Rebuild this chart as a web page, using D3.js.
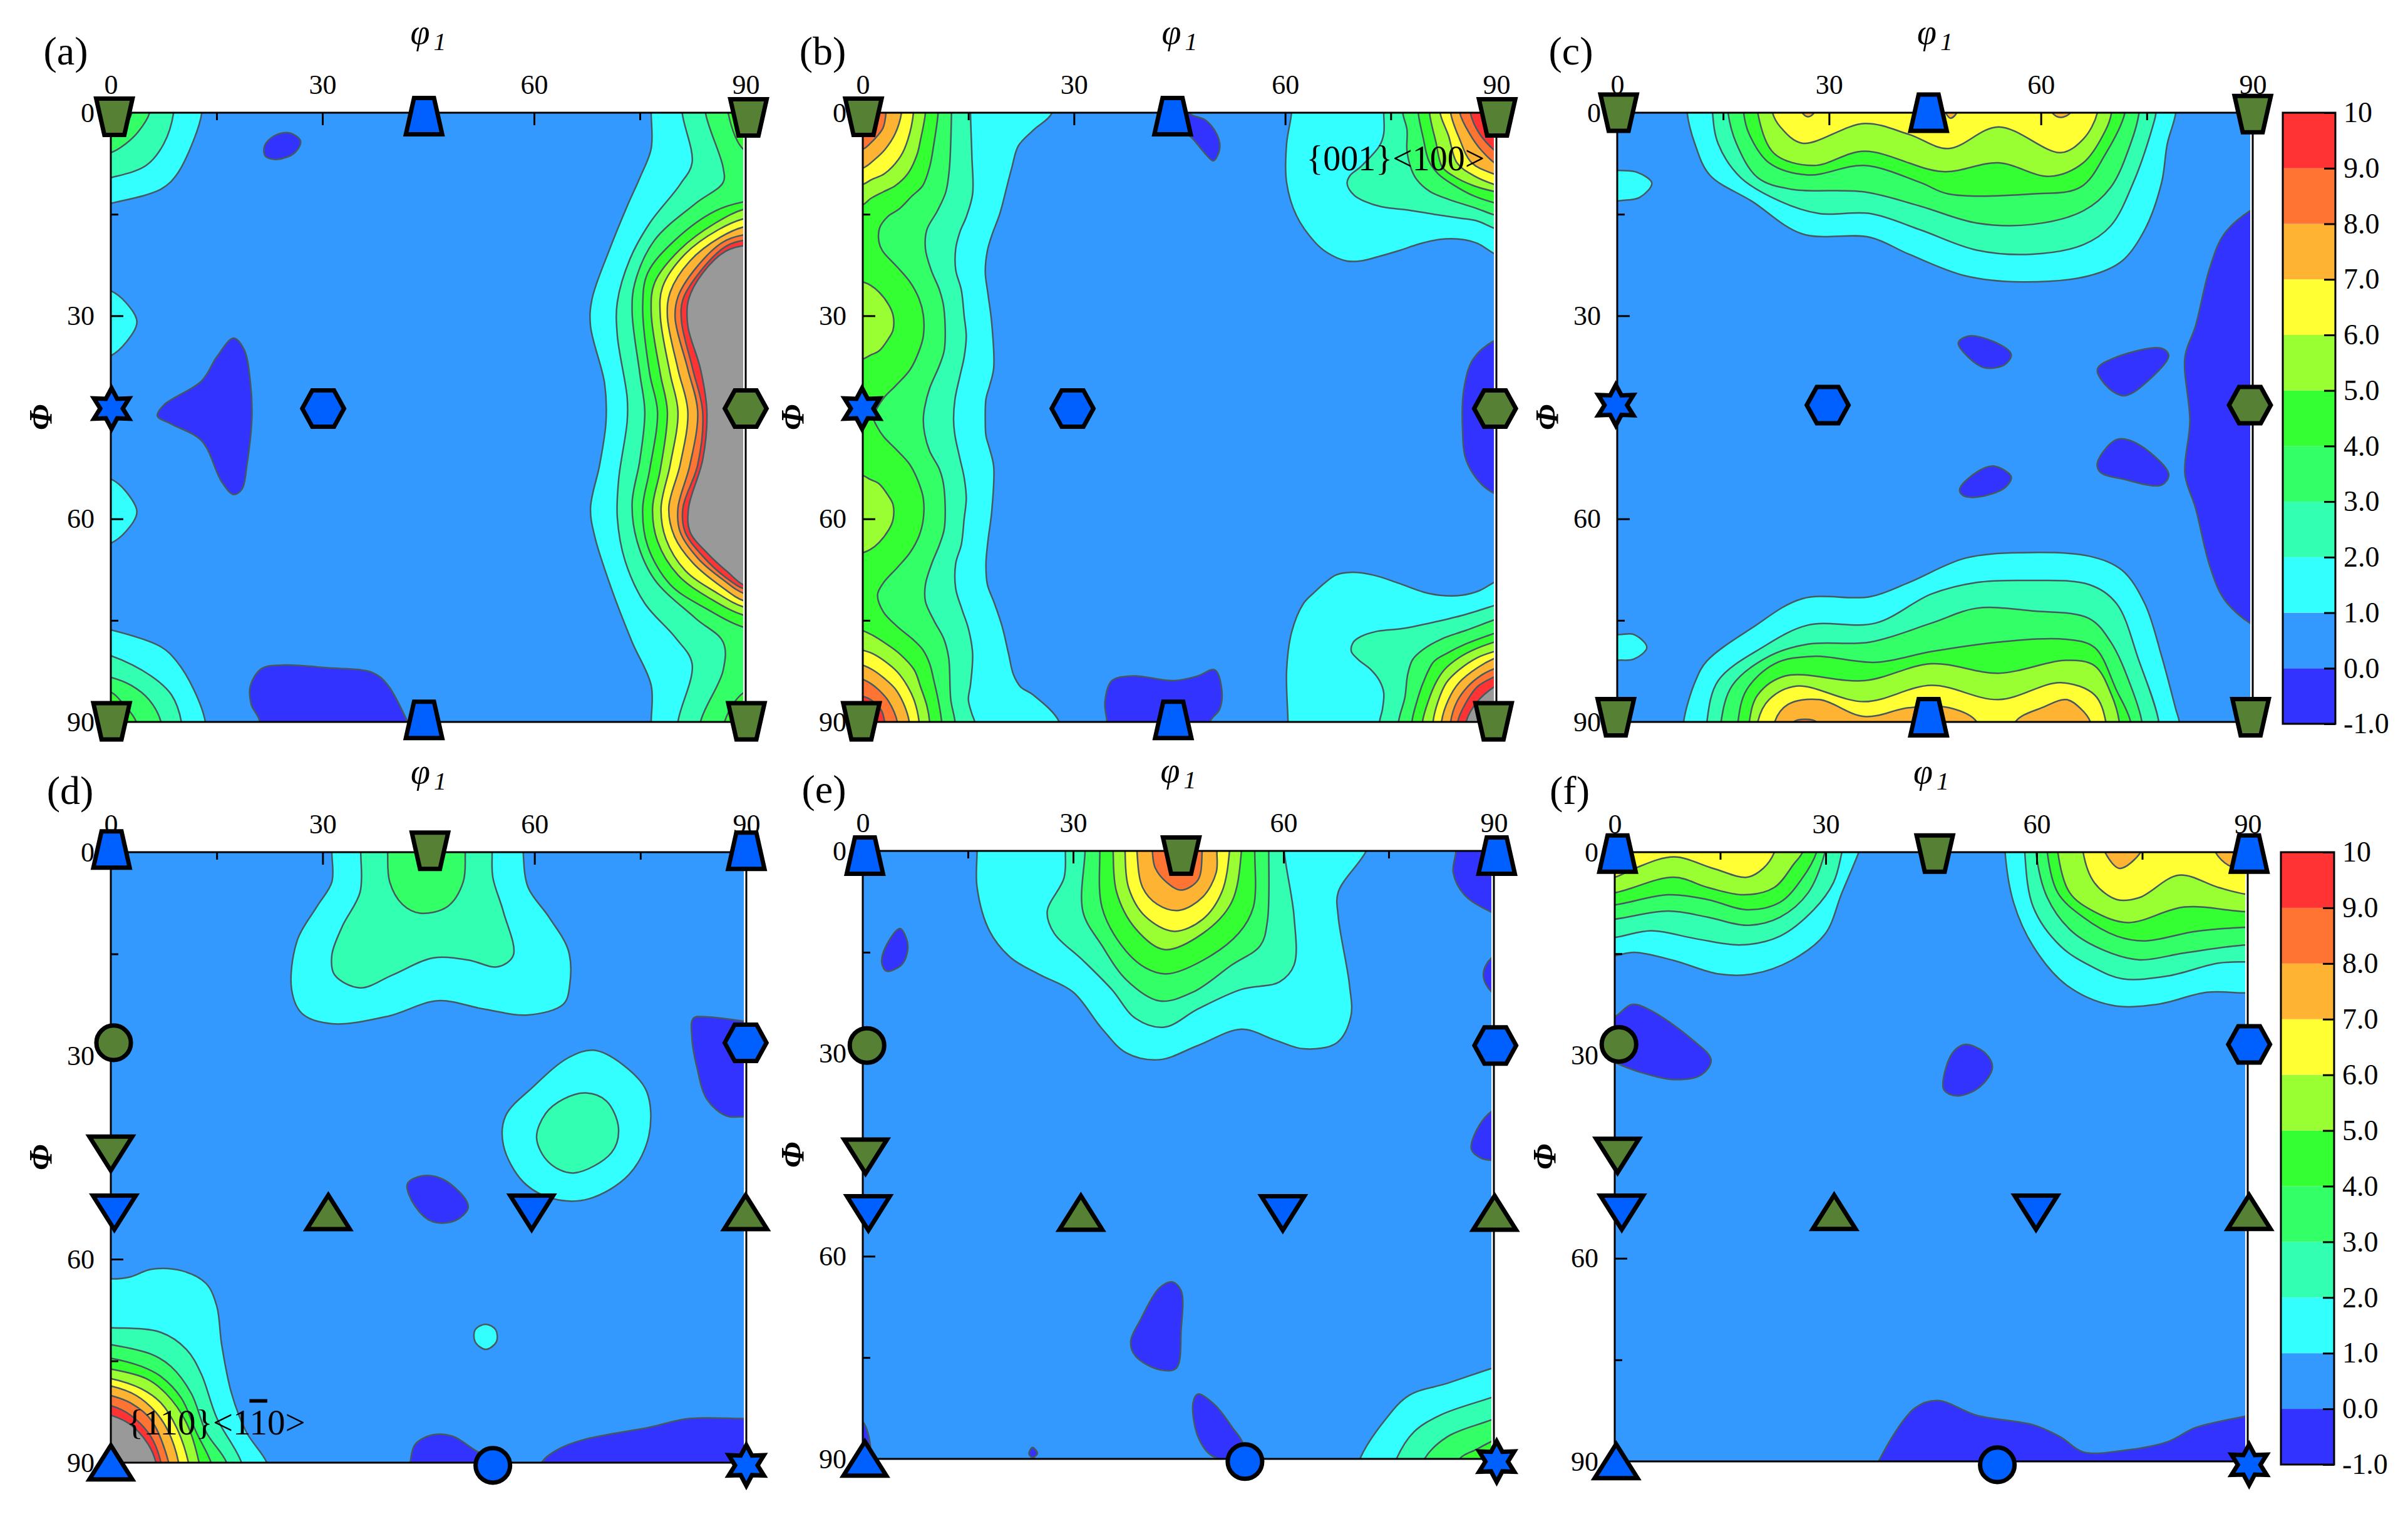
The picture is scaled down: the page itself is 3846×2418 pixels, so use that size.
<!DOCTYPE html>
<html>
<head>
<meta charset="utf-8">
<script src="https://cdn.jsdelivr.net/npm/d3@7"></script>
<style>
  html, body { margin: 0; background: #fff; }
  text { font-family: "Liberation Serif", serif; fill: #000; }
</style>
</head>
<body>
<div id="chart"></div>
<script>
// colour levels of the ODF sections, last band is everything above 10
var levels = [-1, 0, 1, 2, 3, 4, 5, 6, 7, 8, 9, 10];
var levelLabels = ["-1.0", "0.0", "1.0", "2.0", "3.0", "4.0", "5.0", "6.0", "7.0", "8.0", "9.0", "10"];
var bandColors = ["#3333ff", "#3399ff", "#33ffff", "#33ffb3", "#33ff66", "#33ff33", "#99ff33", "#ffff33", "#ffb333", "#ff7333", "#ff3333", "#999999"];
var majorTicks = [0, 30, 60, 90];
var minorTicks = [15, 75];
var panelNames = ["(a)", "(b)", "(c)", "(d)", "(e)", "(f)"];

// contour regions: [lower level, [[phi1, Phi], ...]]
var bandsA = [
  [-1, [[21.8,4.9],[23.2,3.4],[25.4,3],[26.9,4.2],[26.1,5.9],[23.6,6.9],[21.9,6.4]]],
  [-1, [[17.4,33.3],[18.9,35],[19.8,40],[20,44.9],[19.3,52],[18.6,55.6],[17.4,56.4],[15.7,54.5],[12.9,48.5],[8.6,46],[6.6,44.8],[7.5,43.2],[12.9,39.6],[15,36.1]]],
  [-1, [[21.1,90],[19.9,87.4],[19.8,84.6],[21.4,82.1],[24.3,81.6],[30.7,82],[37.1,82.7],[39.3,84.6],[42.1,90],[44,94],[20,94]]],
  [1, [[12.9,-4],[12.9,0],[11.8,3.9],[9.3,9.2],[7.1,11.3],[0,13.4],[-5,14.5],[-5,-4]]],
  [2, [[8.9,-4],[8.9,0],[7.5,4.6],[5,7.8],[0,9.6],[-5,10.5],[-5,-4]]],
  [3, [[5.5,-4],[5.5,0],[3.9,2.8],[2.1,4.6],[0,5.9],[-5,6.5],[-5,-4]]],
  [4, [[3,-4],[3,0],[1.8,2.1],[0,3.5],[-5,4],[-5,-4]]],
  [1, [[13.4,94],[13.4,90],[11.8,85.3],[9.3,81],[7.1,78.9],[0,76.4],[-5,75.5],[-5,94]]],
  [2, [[10,94],[10,90],[8.6,86],[5.7,83.2],[0,80.2],[-5,79],[-5,94]]],
  [3, [[7.1,94],[7.1,90],[5.4,86.7],[2.9,84.6],[0,83.4],[-5,82.5],[-5,94]]],
  [4, [[3.6,94],[3.6,90],[1.8,87.4],[0,85.6],[-5,85],[-5,94]]],
  [1, [[-5,25],[0,26.3],[2.1,28],[3.7,30.9],[2.1,34],[0,35.9],[-5,37]]],
  [1, [[-5,53],[0,54.1],[2.1,55.9],[3.7,59],[2.1,61.9],[0,63.6],[-5,65]]],
  [1, [[76.6,-4],[76.6,0],[76.6,5.3],[75,9.6],[73.2,13.8],[70.7,20.2],[68.2,27.6],[68,31.5],[70,40],[70.2,45.6],[69.3,52],[68,58.4],[68.6,62.6],[71,70.4],[73.9,78.2],[76.6,84.6],[76.6,90],[76.6,94],[95,94],[95,-4]]],
  [2, [[81,-4],[81,0],[82.4,7.4],[80.7,10.6],[76.4,16.3],[73.6,21.6],[71.8,28],[71.8,32.9],[73.2,42.1],[73.2,45.6],[72,54.1],[71.8,59.8],[72.9,66.2],[75.7,72.5],[80,77.5],[82.4,81.4],[80.4,90],[80.4,94],[95,94],[95,-4]]],
  [3, [[84.3,-4],[84.3,0],[86.8,8.1],[86.8,10.3],[82.9,13.4],[77.1,18.8],[74.3,25.1],[73.9,29.4],[75,38.6],[75.7,44.2],[75,51.3],[73.9,57.7],[74.6,63.3],[77.1,69],[82.9,74.7],[86.8,78.2],[86.8,82.4],[83.6,90],[83.6,94],[95,94],[95,-4]]],
  [4, [[87.5,-4],[87.5,0],[90,5.7],[95,6],[95,-4]]],
  [4, [[87,94],[87,90],[90,85.5],[95,85.5],[95,94]]],
  [4, [[95,12.7],[90,13.1],[85.7,14.5],[80,18.8],[76.1,23.7],[75.4,28.7],[76.4,38.6],[77.5,44.2],[76.4,52.7],[75.4,58.4],[76.1,64],[79.3,69.7],[84.3,73.2],[90,76.1],[95,76.5]]],
  [5, [[95,14],[90,14.2],[85.7,16.3],[80.7,20.2],[77.1,25.1],[76.6,29.4],[77.9,38.6],[78.9,44.2],[77.9,52.7],[76.8,58.4],[77.5,63.3],[80.4,68.3],[85,71.8],[90,74.3],[95,74.5]]],
  [6, [[95,15.4],[90,15.6],[86.1,17.3],[81.4,20.9],[78.2,25.8],[77.9,30.1],[79.3,38.6],[80.4,44.2],[79.3,52],[78,58.4],[78.7,63],[81.4,67.6],[85.7,70.8],[90,73.1],[95,73.3]]],
  [7, [[95,16.6],[90,16.8],[86.4,18.4],[82.1,21.9],[79.3,26.5],[78.9,30.1],[80.4,37.9],[81.8,44.2],[80.7,52],[79.1,58.4],[79.9,62.6],[82.5,66.5],[86.4,69.9],[90,72.2],[95,72.4]]],
  [8, [[95,17.9],[90,18],[86.8,19.1],[82.9,23],[80.4,27.2],[80,30.4],[81.8,37.9],[83.2,44.2],[82.1,52],[80.4,58.4],[80.7,61.9],[83.2,65.8],[86.8,69],[90,71.1],[95,71.3]]],
  [9, [[95,18.6],[90,18.8],[87.1,19.8],[83.6,23.4],[81.1,27.6],[80.9,30.8],[82.5,37.9],[83.9,44.2],[83.2,52],[81.1,58.4],[81.4,61.9],[83.9,65.5],[87.1,68.6],[90,70.4],[95,70.6]]],
  [10, [[95,19.4],[90,19.6],[87.1,20.5],[83.9,23.7],[81.9,27.6],[81.8,31.5],[83.6,37.9],[84.5,44.2],[83.9,51.3],[81.9,58.4],[82.1,61.9],[84.6,65.1],[87.5,67.9],[90,69.9],[95,70.1]]]
];

var bandsB = [
  [-1, [[46,-4],[46.3,0],[48.7,1.1],[50.3,3.2],[50.7,5.3],[49.8,7.1],[48.6,6],[46.9,3.9],[45,2],[44,-4]]],
  [-1, [[95,32],[89.8,33.6],[86.7,36.4],[85.4,40.7],[85.2,47.1],[85.7,51.3],[87.8,54.8],[89.8,56.3],[95,58]]],
  [-1, [[34.7,90],[34.4,87],[35.4,83.9],[38.4,83.2],[44.2,83.9],[47.6,83.2],[50,82.3],[51,85.3],[50.7,88.1],[49.3,90],[49,94],[35,94]]],
  // left side
  [1, [[27,-4],[26.9,0],[24.2,2.6],[22.1,4.9],[21.2,8],[20.5,10.8],[19.5,14.8],[18.3,18.2],[17.7,20.4],[17.4,23.5],[17.8,26.9],[18.3,30.9],[18.6,37.7],[18,40.4],[17.5,42.3],[17.4,45.4],[17.5,47.7],[18,49.6],[18.6,52.3],[18.3,59.1],[17.8,63.1],[17.5,66.6],[17.7,69.7],[18.6,72.2],[19.8,75.9],[20.7,79.9],[21.4,83],[22.4,84.8],[24.2,86],[27.9,90],[28,94],[-5,94],[-5,-4]]],
  [2, [[15.3,-4],[15.3,0],[15.5,6.5],[15.6,12],[14.7,15.4],[13.8,17.6],[13.2,20.1],[13.2,23.2],[14,26.2],[14.4,30],[14.7,33],[14.4,36.1],[13.8,38.9],[13.1,42.3],[12.9,45.4],[13.1,47.7],[13.8,51.1],[14.4,53.9],[14.7,57],[14.4,60],[14,63.8],[13.2,66.6],[13.2,70.3],[14.1,73.4],[15,76.2],[15.6,79.9],[15.3,84.5],[15,86.7],[15.5,88.8],[15.9,90],[16,94],[-5,94],[-5,-4]]],
  [3, [[12.6,-4],[12.6,0],[12.3,8.3],[11.8,11.7],[10.6,14.5],[9.1,17.3],[8.9,20.1],[9.7,23.2],[10.9,26.2],[11.5,28.7],[11.6,34.9],[10.9,37.3],[9.5,40.7],[8.8,43.5],[8.6,45.4],[8.8,47.5],[9.5,50],[10.9,52.7],[11.5,55.1],[11.6,61.3],[10.9,63.8],[9.8,66.6],[8.9,69.7],[8.9,72.2],[10.1,75],[11.5,77.7],[12.2,80.5],[12.5,86.7],[13.1,90],[13.1,94],[-5,94],[-5,-4]]],
  [4, [[10.7,-4],[10.7,0],[10.1,4.6],[9.5,8],[8.5,10.8],[7,12.3],[5.2,14.2],[3.6,15.3],[2.4,17],[2.3,19.1],[2.8,20.4],[4.9,22.8],[6.7,25],[8,27.5],[8.6,29.9],[8.6,33],[8,35.2],[6.7,38],[4.6,40.4],[3,42.1],[2.1,43.5],[1.5,45],[2.1,46.5],[3,47.9],[4.6,49.6],[6.7,52],[8,54.8],[8.6,57],[8.6,60],[8,62.5],[6.7,65],[4.9,67.2],[2.9,69.5],[2.1,71.2],[2.9,73.7],[4.9,75.9],[7,77.7],[8.5,79.3],[9.5,81.4],[10.1,83.9],[10.7,86.7],[11.2,90],[11.2,94],[-5,94],[-5,-4]]],
  [5, [[-5,24],[0,25],[1.1,25.5],[2.3,26.5],[3.7,28.4],[4.3,29.9],[4.3,32.1],[3.7,33.3],[2.3,35.2],[1.1,35.8],[0,36.4],[-5,37.5]]],
  [5, [[-5,52.5],[0,53.6],[1.1,54.2],[2.3,54.8],[3.7,56.7],[4.3,57.9],[4.3,60.1],[3.7,61.6],[2.3,63.5],[1.1,64.5],[0,65],[-5,66]]],
  [5, [[8.9,-4],[8.9,0],[8.2,4],[7.7,6.2],[6.4,9],[4.6,10.8],[2.9,11.7],[1.1,12.7],[0,13.6],[-5,14.5],[-5,-4]]],
  [6, [[7.2,-4],[7.2,0],[6.4,4],[5.4,6.4],[3.1,9],[1.2,9.9],[0,10.6],[-5,11.5],[-5,-4]]],
  [7, [[5.5,-4],[5.5,0],[4.6,3.1],[3.1,5.5],[1.7,6.9],[0,8.2],[-5,9],[-5,-4]]],
  [8, [[3.3,-4],[3.3,0],[2.9,2.2],[2.1,3.4],[1.1,4.5],[0,5.4],[-5,6],[-5,-4]]],
  [5, [[9.5,94],[9.5,90],[9.1,87.6],[8.2,84.8],[7.3,82.3],[5.2,79.9],[3.1,78.3],[1.4,77.2],[0,76.5],[-5,75],[-5,94]]],
  [6, [[8,94],[8,90],[7.3,86.8],[6.4,84.8],[4.9,82.6],[3.1,81],[1.4,79.9],[0,79.4],[-5,78],[-5,94]]],
  [7, [[6.6,94],[6.6,90],[5.8,87.3],[4.6,85.1],[3.1,83.6],[1.4,82.3],[0,81.6],[-5,80],[-5,94]]],
  [8, [[4.9,94],[4.9,90],[3.7,87],[2.3,85.3],[1.1,84.3],[0,83.7],[-5,82],[-5,94]]],
  [9, [[3.1,94],[3.1,90],[2.6,88.2],[1.1,86.7],[0,86.2],[-5,85],[-5,94]]],
  // right side, top
  [1, [[60.9,-4],[60.9,0],[60.2,4.6],[60.2,10.3],[61.6,15.2],[64.2,19.1],[66,20.7],[68.7,21.9],[70.7,21.9],[73.1,21.3],[76.1,20.4],[79,19.4],[82,18.7],[85,18.7],[87.3,19.3],[90,21],[95,23],[95,-4]]],
  [2, [[74,-4],[74,0],[74,3.1],[73.4,4.9],[70.7,8],[69.2,9.3],[68.8,10.5],[69.8,12.2],[71.3,13.1],[73.7,13.9],[77.6,14.4],[81.1,15],[85,15.6],[87.3,16],[90,17.2],[95,18.5],[95,-4]]],
  [3, [[76.7,-4],[76.7,0],[77.3,2.5],[77.3,5.6],[77.9,8.3],[78.7,9.9],[80.5,11.6],[83.2,12.8],[86.8,14],[90,15.2],[95,16.5],[95,-4]]],
  [4, [[78.9,-4],[78.9,0],[79.6,3.7],[80.4,7.1],[81.7,9],[83.8,10.6],[86.8,12.3],[90,13.4],[95,14.5],[95,-4]]],
  [5, [[80.5,-4],[80.5,0],[81.4,4.3],[82.3,8],[83.8,9.3],[86.8,10.8],[90,11.7],[95,12.5],[95,-4]]],
  [6, [[82,-4],[82,0],[83.2,3.4],[84.4,7.4],[86.8,9.3],[90,10.7],[95,12],[95,-4]]],
  [7, [[83.5,-4],[83.5,0],[84.7,3.7],[86.5,7.4],[90,9.2],[95,11],[95,-4]]],
  [8, [[84.8,-4],[84.8,0],[86.2,3.1],[87.9,5.6],[90,7.6],[95,10],[95,-4]]],
  [9, [[86.3,-4],[86.3,0],[87.6,3.1],[90,5.8],[95,9],[95,-4]]],
  // right side, bottom
  [1, [[60.4,94],[60.4,90],[60.2,82.4],[60.9,76.8],[62.6,72.5],[64.2,70.8],[65.7,69.4],[67.2,68.3],[69.5,67.9],[72.5,68.3],[76.1,69.5],[79.6,70.8],[82,71.3],[85,71.3],[87.6,70.6],[90,69.2],[95,67],[95,94]]],
  [2, [[73.4,94],[73.4,90],[73.8,88.2],[74,85.7],[73.4,83.9],[72.2,82.3],[70.4,80.8],[69.4,79.6],[69.7,78.2],[70.7,77.4],[73.1,76.6],[76.7,76.2],[80.5,75.4],[85,74.3],[90,72.7],[95,71],[95,94]]],
  [3, [[76.1,94],[76.1,90],[77,86.4],[77.4,83],[78.1,80.8],[79.6,79.3],[82.3,77.7],[85.6,76.5],[90,74.8],[95,73],[95,94]]],
  [4, [[78,94],[78,90],[78.7,87],[79.6,84.2],[81.1,81.1],[82.9,79.9],[85.6,78.5],[90,76.8],[95,75],[95,94]]],
  [5, [[79.5,94],[79.5,90],[80.4,86.7],[81.4,84.2],[82.6,82.3],[84.7,80.5],[87.3,79.1],[90,78.1],[95,76.5],[95,94]]],
  [6, [[81,94],[81,90],[81.7,87],[82.9,84.2],[84.7,82.3],[87.3,80.5],[90,79.5],[95,78],[95,94]]],
  [7, [[82.2,94],[82.2,90],[83.2,86.7],[84.7,84.2],[87.3,82],[90,80.5],[95,79],[95,94]]],
  [8, [[83.5,94],[83.5,90],[84.4,87],[85.9,84.8],[88,83],[90,82],[95,80],[95,94]]],
  [9, [[84.5,94],[84.5,90],[85.6,87.3],[87.3,84.8],[90,83.2],[95,81],[95,94]]],
  [10, [[85.7,94],[85.7,90],[87.3,87],[90,84.6],[95,82],[95,94]]]
];

var bandsC = [
  [-1, [[95,12],[89.6,14.5],[85.9,18],[83.9,23],[81.9,31.5],[80.4,36.1],[81.1,45.6],[80.4,53.4],[81.9,58.4],[83.9,66.9],[85.9,71.8],[89.6,75.4],[95,78]]],
  [-1, [[48.3,34],[49.7,33],[53.3,33.8],[55.8,35.7],[54.9,37.2],[52.1,37.7],[49.7,36.1]]],
  [-1, [[48.5,55.6],[50.9,53.1],[53.3,52.2],[55.8,53.8],[54.9,55.4],[50.9,56.8],[48.9,56.5]]],
  [-1, [[68,37.9],[70.7,36.1],[77.1,34.8],[78.1,35.9],[75.5,39.3],[71.9,41.8],[69.6,40.7]]],
  [-1, [[68,51.7],[70.7,48.3],[73.5,48.8],[78.1,53.4],[77.1,55],[71.5,54.1],[68.4,53.1]]],
  [1, [[-5,8],[0,8.5],[2.8,8.8],[4.9,10.4],[3.2,12.5],[0.4,13],[-5,13.5]]],
  [1, [[-5,76.5],[0,77.1],[2.4,77.1],[4.2,79],[2.4,80.7],[0,80.9],[-5,81.5]]],
  // top
  [1, [[9.9,-4],[9.9,0],[11,4.6],[13.1,9.2],[19.1,13.1],[26.2,17.9],[35.8,18.4],[41.3,20.9],[49.3,24.1],[57.2,25],[66.8,24.1],[71.5,21.9],[74.7,17.3],[77.1,10.3],[77.9,4.6],[79.1,0],[79.1,-4]]],
  [2, [[13.5,-4],[13.5,0],[14.3,4.6],[17.5,9.6],[23.1,13.1],[28.6,14.9],[35.8,14.9],[42.9,17.3],[50.9,20.3],[58.8,20.9],[66,19.5],[69.9,16.7],[73.1,10.3],[75.9,1.8],[76.3,0],[76.3,-4]]],
  [3, [[15.7,-4],[15.7,0],[16.9,4.6],[19.9,9.6],[24.6,11.3],[35,11.7],[42.9,13.8],[50.9,16.3],[58.8,16.5],[66,14.5],[69.9,11],[72.7,4.6],[73.9,0],[73.9,-4]]],
  [4, [[17.9,-4],[17.9,0],[18.7,3.2],[21.5,7.4],[27,9.2],[35,7.8],[42.9,10.3],[46.9,12],[58.8,12],[65.6,11],[69.2,6],[71.9,0],[71.9,-4]]],
  [5, [[19.9,-4],[19.9,0],[22.2,6],[27.8,7.8],[35,5.7],[46.1,8.7],[54,7.4],[61.2,9.4],[66,7.4],[69.2,2.5],[70,0],[70,-4]]],
  [6, [[22,-4],[22,0],[23.1,2.1],[26.2,4.5],[35,1.6],[41.3,3.2],[46.9,5.3],[54,2.1],[62.8,5.9],[66,3.9],[68,0],[68,-4]]],
  [7, [[25.5,-2],[26.2,0],[27,0.6],[27.9,0],[28.5,-2]]],
  [7, [[46,-2],[46.5,0],[47.2,0.8],[48.1,0],[48.6,-2]]],
  [7, [[61,-2],[61.6,0],[62.8,0.7],[64.2,0],[64.8,-2]]],
  // bottom
  [1, [[9.4,94],[9.4,90],[11.1,83.9],[12.7,81],[19.1,76.1],[26.2,71.8],[35.8,71.5],[41.3,69.4],[49.3,65.8],[57.2,65],[66.8,65.5],[71.5,67.6],[74.7,72.5],[77.1,80.3],[79.1,88.1],[79.6,90],[79.6,94]]],
  [2, [[12.7,94],[12.7,90],[14.3,83.9],[20.7,78.9],[27,75.7],[36.6,75.4],[44.5,71.1],[50.9,69.4],[58,69.1],[66.8,69.7],[70.7,72.5],[73.9,81],[76.7,90],[76.7,94]]],
  [3, [[14.7,94],[14.7,90],[16.3,84.6],[21.5,80.3],[27,78.5],[35.8,78.2],[44.5,75.4],[50.9,73.2],[58.8,73.6],[66.8,74.7],[69.9,78.2],[72.7,84.6],[74.3,90],[74.3,94]]],
  [4, [[17.1,94],[17.1,90],[18.3,85.3],[22.3,81.4],[27.8,80.3],[36.6,81.2],[44.5,79.6],[54,78.2],[63.6,77.8],[67.6,79],[70.7,85.3],[72.7,90],[72.7,94]]],
  [5, [[18.7,94],[18.7,90],[19.9,86],[23.8,83.2],[35,83.9],[44.5,81.4],[54,82.8],[63.6,80.9],[67.6,81.7],[70,86],[71.1,90],[71.1,94]]],
  [6, [[19.9,94],[19.9,90],[21.5,86.7],[25.4,84.7],[35,87],[44.5,84.6],[54,86.7],[62.8,84.2],[67.6,86],[69.2,90],[69.2,94]]],
  [7, [[22.3,94],[22.3,90],[24.2,87.4],[28.6,86.7],[35,89.2],[41.3,87.9],[47,87.9],[50.9,90],[51,94]]],
  [7, [[56.4,94],[56.4,90],[60.4,87.8],[63.6,86.7],[65.6,88],[67,90],[67,94]]],
  [8, [[25,92],[25,90],[26.6,89.6],[28.2,90],[28.2,92]]]
];

var bandsD = [
  [-1, [[42,48.9],[44.2,47.7],[47,48.2],[50.2,51.1],[50.6,52.5],[48.8,54.3],[45.6,54.5],[43.1,52.2]]],
  [-1, [[82.5,24.5],[84.7,24.3],[89.7,24.9],[95,25.2],[95,39.2],[89.7,39],[87.2,38.9],[84.4,36.4],[83,31.7],[82.3,27.4]]],
  [-1, [[42.4,90],[43.1,87.3],[45.6,85.9],[48.4,86.1],[52,88.4],[55.6,90],[56,94],[42,94]]],
  [-1, [[61,90],[63.4,88],[67,86.6],[76.2,84.8],[81.9,83.5],[89.7,83.5],[95,83.5],[95,94],[60,94]]],
  [1, [[31.3,-4],[31.3,0],[31.3,4.4],[29.2,8],[26.4,13],[25.6,20.2],[27.1,23.8],[31.3,25.3],[39.2,24.2],[46.3,21.9],[52.7,23.1],[59.1,24],[64.1,22.4],[65,19.5],[64.8,14.5],[62,9.5],[59.1,5.2],[58.4,0],[58.4,-4]]],
  [2, [[35.4,-4],[35.4,0],[35.3,5.9],[32.8,10.9],[31.3,15.2],[31.7,18.1],[35.3,20],[39.9,18.1],[45.6,15.6],[50.6,15.9],[54.8,16.9],[57,15.2],[55.6,8.8],[54.1,3.7],[54,0],[54,-4]]],
  [3, [[39.2,-4],[39.2,0],[39.5,4.4],[41.3,7.7],[43.8,9],[47.7,8],[49.9,4.4],[50.2,0],[50.2,-4]]],
  [1, [[68.4,29.2],[72.6,31.4],[75.9,35.3],[76.2,41.8],[73.4,47.5],[67.7,51.1],[62.7,51.1],[58.4,48.6],[55.6,43.2],[55.9,38.9],[59.8,34.6],[64.8,30.3]]],
  [2, [[67.3,35.5],[70.2,36.7],[71.9,40.7],[70.9,44.3],[65.5,47.3],[62,45.7],[60.3,42.1],[61.6,38.5],[64.1,36.4]]],
  [1, [[53.1,69.6],[54.5,70.4],[54.6,72.2],[53.1,73.3],[51.6,72.2],[51.6,70.4]]],
  [1, [[-5,62],[0,62.9],[2.8,62.6],[5.7,61.5],[10,61.7],[13.5,63.6],[15,66.9],[15.7,72.6],[17.1,79.8],[19.2,85.5],[22.1,90],[23,94],[-5,94]]],
  [2, [[-5,70],[0,70.1],[7.1,70.8],[10.7,73.3],[12.8,76.9],[15,83.4],[18.5,90],[19,94],[-5,94]]],
  [3, [[-5,72],[0,72.6],[5.7,74],[8.5,75.8],[11.4,79.8],[13.5,85.5],[16.4,90],[17,94],[-5,94]]],
  [4, [[-5,74],[0,74.6],[4.3,75.8],[7.1,77.3],[10,80.5],[12.1,85.5],[14.2,90],[15,94],[-5,94]]],
  [5, [[-5,75.5],[0,76.2],[5,77.6],[7.8,79.8],[10.7,84.1],[12.5,90],[13,94],[-5,94]]],
  [6, [[-5,77],[0,77.6],[4.3,79.1],[7.1,81.2],[9.3,84.8],[11,90],[11.5,94],[-5,94]]],
  [7, [[-5,78],[0,78.7],[3.6,80.1],[6.4,82.6],[8.2,85.5],[9.6,90],[10,94],[-5,94]]],
  [8, [[-5,79],[0,80.1],[2.8,81.2],[5.7,83.7],[8.2,90],[8.7,94],[-5,94]]],
  [9, [[-5,81],[0,81.6],[2.8,83],[5.7,86.2],[7.1,90],[7.5,94],[-5,94]]],
  [10, [[-5,82],[0,83],[2.8,84.4],[5.3,87.3],[6.4,90],[6.8,94],[-5,94]]]
];

var bandsE = [
  [-1, [[5.3,11.5],[6.2,12.9],[6.4,14.7],[5.5,16.9],[3.4,17.8],[2.7,16.5],[3.5,13.7]]],
  [-1, [[84.6,-4],[84.6,0],[84.2,3.2],[85.8,6.5],[89.7,9.1],[95,11],[95,-4]]],
  [-1, [[95,14],[89.7,15.8],[88.5,18.3],[89.7,20.9],[95,23]]],
  [-1, [[95,36],[89.7,38.5],[87.5,41.4],[86.8,44.2],[88.2,45.5],[89.7,45.8],[95,46]]],
  [-1, [[44.1,63.8],[45.4,65.1],[45.4,70.9],[44.7,76.6],[42.3,76.8],[38.9,74.8],[38.2,72.7],[39.6,69.4],[42.3,64.7]]],
  [-1, [[47.8,80.4],[50.2,82],[52.6,85.2],[54.3,88.1],[53.3,90],[49.9,89.6],[47.8,86.7],[47.1,81.7]]],
  [-1, [[24.2,88.3],[24.9,89.2],[24.2,89.8],[23.7,89.2]]],
  [-1, [[-3,83],[0,84.5],[1,87.4],[1,88.8],[0,89],[-3,90]]],
  [1, [[16.3,-4],[16.3,0],[16.3,5.4],[18.1,11.9],[21.1,15.8],[25.2,18.3],[30,20.9],[34.1,26.3],[37.6,29.9],[42.3,30.9],[47.8,28.8],[54,26.4],[58.8,28],[62.9,29.3],[67.6,28.4],[69.6,24.5],[69.4,19.8],[67.8,9.7],[67.8,6.1],[71.8,0],[73,-4]]],
  [2, [[28.9,-4],[28.9,0],[28.7,4],[26.3,9],[27.3,12.2],[31.4,16.2],[35.5,20.5],[38.9,24.8],[43,26.1],[47.8,23.4],[54,20.5],[59.4,19.4],[61.5,16.9],[61.5,9.7],[60.1,0],[60.1,-4]]],
  [3, [[31.7,-4],[31.7,0],[31.4,9],[34.1,14],[37.6,19.1],[42.3,22.2],[47.1,20.9],[52.6,16.9],[56.7,14],[57.7,10.4],[57.9,0],[57.9,-4]]],
  [4, [[33.8,-4],[33.8,0],[34.1,8.3],[36.9,14],[40.3,17.3],[43.4,18.2],[48.5,16.2],[53.6,12.2],[55.7,8.3],[55.9,0],[55.9,-4]]],
  [5, [[35.7,-4],[35.7,0],[36.2,6.1],[38.9,11.5],[43,14.6],[48.5,12.2],[52.6,7.6],[54,0],[54,-4]]],
  [6, [[37.4,-4],[37.4,0],[37.9,5.4],[40.3,9.7],[44.4,11.9],[48.5,10.1],[51.2,6.1],[52.3,0],[52.3,-4]]],
  [7, [[39.1,-4],[39.1,0],[39.9,5.4],[42,7.9],[45.1,8.8],[48.5,6.8],[50.4,3.2],[50.5,0],[50.5,-4]]],
  [8, [[41.3,-4],[41.3,0],[41.7,2.5],[43.4,4.7],[45.4,5.8],[47.8,4.3],[48.4,0],[48.4,-4]]],
  [1, [[70,94],[70.9,90],[74.5,84.2],[77.9,80.6],[83.4,78.8],[89.7,76.6],[95,75],[95,94]]],
  [2, [[75,94],[76.1,90],[78.6,86],[82.4,83.5],[89.7,80.9],[95,79],[95,94]]],
  [3, [[79,94],[80.1,90],[83.4,86.7],[89.7,84.2],[95,82],[95,94]]],
  [4, [[84,94],[85.1,90],[87.5,88.6],[89.7,87.4],[95,85],[95,94]]]
];

var bandsF = [
  [-1, [[-5,26],[0,24.3],[2.4,22.5],[4.8,23.2],[10.8,27.5],[13.7,30.7],[12.3,32.9],[8.4,33.6],[3.6,32.5],[0,31.1],[-5,29]]],
  [-1, [[49.9,28.4],[52.7,29.7],[53.7,31.8],[51.9,34.7],[48.7,36],[46.8,35.1],[47.1,31.8],[48.3,29.3]]],
  [-1, [[36,94],[37.5,90],[42.7,82.1],[45.9,81],[51.5,83.2],[59.5,84.6],[63.4,86.4],[66.6,88.6],[72.2,88.4],[78.6,87.1],[82.6,85],[89.7,83.3],[95,82],[95,94]]],
  // top left
  [1, [[-5,15.8],[0,15.3],[2.8,14.8],[8.4,16],[14.8,18],[19.6,18],[25.1,16],[29.9,12.1],[32.3,6],[34.7,0],[36,-4],[-5,-4]]],
  [2, [[-5,13],[0,12.6],[5.2,11.6],[11.6,12.8],[18,13.7],[23.5,12.4],[28.3,8.5],[31.1,4.5],[32.3,0],[33,-4],[-5,-4]]],
  [3, [[-5,10.3],[0,9.9],[7.6,8.7],[13.2,9.6],[18.8,10.8],[23.5,9.6],[27.5,6],[29.9,0],[30.5,-4],[-5,-4]]],
  [4, [[-5,8.2],[0,7.8],[7.6,6.3],[13.2,7],[18.8,8.5],[23.5,7.4],[26.7,3.8],[28.7,0],[29.3,-4],[-5,-4]]],
  [5, [[-5,6.5],[0,6],[8.4,3.7],[13.2,5.2],[18.4,6.3],[22.7,5.2],[25.5,1.7],[26.7,0],[27.3,-4],[-5,-4]]],
  [6, [[-5,4.2],[0,3.7],[2.8,2.4],[8.4,0.7],[14,2.4],[18.8,3.7],[21.1,2.4],[22.7,0],[23.3,-4],[-5,-4]]],
  // top right
  [1, [[55.5,-4],[55.5,0],[56.7,7.4],[59.5,13.9],[64.2,19.6],[70.6,22.6],[77,22.5],[84.2,20.7],[89.7,20.8],[95,20.8],[95,-4]]],
  [2, [[58.3,-4],[58.3,0],[59.5,8.1],[63.4,13.9],[68.2,17.1],[72.2,18.7],[78.6,18.3],[85.8,16.4],[89.7,16.2],[95,16.2],[95,-4]]],
  [3, [[59.9,-4],[59.9,0],[61.5,6.7],[65,11.7],[69.8,14.6],[74.6,15.9],[81,14.9],[89.7,13.7],[95,13.7],[95,-4]]],
  [4, [[61.5,-4],[61.5,0],[63,6],[66.6,9.6],[71.4,12.4],[75.4,13.1],[82.6,11.7],[89.7,11.1],[95,11.1],[95,-4]]],
  [5, [[63,-4],[63,0],[64.7,6],[68.2,8.8],[73,10.4],[81,8.1],[89.7,8.8],[95,8.8],[95,-4]]],
  [6, [[66.6,-4],[66.6,0],[68.2,4.5],[71.4,7],[74.6,6.7],[80.2,3.4],[85.8,5.2],[89.7,6.2],[95,6.5],[95,-4]]],
  [7, [[69.2,-2],[69.7,0],[71.8,2.4],[74.8,0],[75.4,-2]]],
  [7, [[85,-2],[85.4,0],[87.4,2],[89.7,2.2],[95,2.2],[95,-2]]]
];

// pole figure markers: [shape, family, phi1, Phi]
var markersA = [["trapDown","g",0.5,0.6],["trapDown","g",90.4,0.7],["trapDown","g",0.1,89.9],["trapDown","g",90.1,89.9],["trapUp","b",44.4,0.5],["trapUp","b",44.4,89.7],["star","b",0.1,43.7],["hexagon","b",30.1,43.7],["hexagon","g",90,43.7]];
var markersB = [["trapDown","g",0.1,0.6],["trapDown","g",90.1,0.7],["trapDown","g",-0.2,89.9],["trapDown","g",89.6,89.9],["trapUp","b",44,0.5],["trapUp","b",44.1,89.7],["star","b",-0.1,43.7],["hexagon","b",29.8,43.7],["hexagon","g",89.8,43.7]];
var markersC = [["trapDown","g",0.2,0],["trapDown","g",90,0.2],["trapDown","g",-0.2,89.3],["trapDown","g",89.7,89.3],["trapUp","b",44.1,0],["trapUp","b",44.1,89.3],["star","b",-0.2,43.2],["hexagon","b",29.8,43.2],["hexagon","g",89.6,43.2]];
var markersD = [["trapUp","b",0.1,-0.4],["trapUp","b",90,-0.2],["trapDown","g",45.2,-0.2],["circle","g",0.4,28.1],["hexagon","b",89.9,28.1],["triDown","g",0,44.4],["triDown","b",0.5,53.1],["triUp","g",30.8,53.1],["triDown","b",59.6,53.1],["triUp","g",89.9,53.1],["triUp","b",0,90],["circle","b",54.1,90.4],["star","b",90,90.4]];
var markersE = [["trapUp","b",0.3,0.7],["trapUp","b",90.4,0.7],["trapDown","g",45.4,0.7],["circle","g",0.6,28.8],["hexagon","b",90.2,28.8],["triDown","g",0.4,45.2],["triDown","b",0.8,53.6],["triUp","g",31.1,53.6],["triDown","b",59.9,53.6],["triUp","g",90.1,53.6],["triUp","b",0.3,90],["circle","b",54.5,90.4],["star","b",90.4,90.4]];
var markersF = [["trapUp","b",0.4,0.2],["trapUp","b",90.2,0.2],["trapDown","g",45.5,0.2],["circle","g",0.6,28.4],["hexagon","b",90.2,28.4],["triDown","g",0.4,44.8],["triDown","b",1,53.2],["triUp","g",31.2,53.2],["triDown","b",59.9,53.2],["triUp","g",90.2,53.2],["triUp","b",0.2,90],["circle","b",54.4,90.5],["star","b",90.2,90.5]];

var allBands = [bandsA, bandsB, bandsC, bandsD, bandsE, bandsF];
var allMarkers = [markersA, markersB, markersC, markersD, markersE, markersF];

// page layout, in pixels
var frames = [
  {l: 177, r: 1191, t: 180, b: 1153, tag: -72},
  {l: 1378, r: 2390, t: 180, b: 1153, tag: -64},
  {l: 2583, r: 3598, t: 180, b: 1153, tag: -74},
  {l: 177, r: 1192, t: 1361, b: 2336, tag: -65},
  {l: 1378, r: 2386, t: 1359, b: 2330, tag: -62},
  {l: 2579, r: 3590, t: 1361, b: 2334, tag: -72}
];
var colorBars = [
  {l: 3646, r: 3730, t: 180, b: 1156},
  {l: 3643, r: 3728, t: 1361, b: 2339}
];

var width = 3846, height = 2418;

var svg = d3.select("#chart").append("svg")
    .attr("width", width)
    .attr("height", height)
    .style("display", "block");

var bandColor = d3.scaleOrdinal().domain(levels).range(bandColors);
var markerColor = {b: "#0060ff", g: "#568033"};

function polygonType(pts) {
  return {
    draw: function(ctx, size) {
      var r = Math.sqrt(size);
      pts.forEach(function(p, i) {
        if (i == 0) ctx.moveTo(p[0] * r, p[1] * r);
        else ctx.lineTo(p[0] * r, p[1] * r);
      });
      ctx.closePath();
    }
  };
}

var starPts = d3.range(12).map(function(i) {
  var a = (i * 30 - 90) * Math.PI / 180, k = i % 2 ? 0.62 : 1.12;
  return [k * Math.cos(a), k * Math.sin(a)];
});

var shapes = {
  trapUp: polygonType([[-0.55,-1],[0.55,-1],[1,1],[-1,1]]),
  trapDown: polygonType([[-1,-1],[1,-1],[0.55,1],[-0.55,1]]),
  triUp: polygonType([[0,-0.95],[1.18,0.92],[-1.18,0.92]]),
  triDown: polygonType([[-1.18,-0.92],[1.18,-0.92],[0,0.95]]),
  hexagon: polygonType([[-1.15,0],[-0.6,-1],[0.6,-1],[1.15,0],[0.6,1],[-0.6,1]]),
  star: polygonType(starPts),
  circle: {draw: function(ctx, size) { var r = Math.sqrt(size); ctx.moveTo(r * 0.95, 0); ctx.arc(0, 0, r * 0.95, 0, 2 * Math.PI); }}
};

frames.forEach(function(f, i) {
  var x = d3.scaleLinear().domain([0, 90]).range([f.l, f.r]);
  var y = d3.scaleLinear().domain([0, 90]).range([f.t, f.b]);
  var g = svg.append("g").attr("class", "panel");

  g.append("clipPath").attr("id", "clip" + i)
    .append("rect")
    .attr("x", f.l).attr("y", f.t)
    .attr("width", f.r - f.l - 4).attr("height", f.b - f.t);

  var plot = g.append("g").attr("clip-path", "url(#clip" + i + ")");

  plot.append("rect")
    .attr("x", f.l).attr("y", f.t)
    .attr("width", f.r - f.l).attr("height", f.b - f.t)
    .attr("fill", bandColor(0));

  var line = d3.line()
    .x(function(d) { return x(d[0]); })
    .y(function(d) { return y(d[1]); })
    .curve(d3.curveCatmullRomClosed.alpha(0.5));

  var sorted = allBands[i].slice().sort(function(a, b) { return d3.ascending(a[0], b[0]); });

  plot.selectAll("path.band")
    .data(sorted)
    .enter().append("path")
    .attr("class", "band")
    .attr("d", function(d) { return line(d[1]); })
    .attr("fill", function(d) { return bandColor(d[0]); })
    .attr("stroke", "#46595f")
    .attr("stroke-width", 2.5);

  g.append("rect")
    .attr("x", f.l).attr("y", f.t)
    .attr("width", f.r - f.l).attr("height", f.b - f.t)
    .attr("fill", "none")
    .attr("stroke", "#000")
    .attr("stroke-width", 3);

  // ticks point inwards on the top and left sides only
  var topAxis = g.append("g").attr("transform", "translate(0," + f.t + ")")
    .call(d3.axisTop(x).tickValues(majorTicks).tickSize(-20).tickPadding(30).tickFormat(d3.format("d")));
  var leftAxis = g.append("g").attr("transform", "translate(" + f.l + ",0)")
    .call(d3.axisLeft(y).tickValues(majorTicks).tickSize(-20).tickPadding(26).tickFormat(d3.format("d")));
  var topMinor = g.append("g").attr("transform", "translate(0," + f.t + ")")
    .call(d3.axisTop(x).tickValues(minorTicks).tickSize(-12).tickFormat(""));
  var leftMinor = g.append("g").attr("transform", "translate(" + f.l + ",0)")
    .call(d3.axisLeft(y).tickValues(minorTicks).tickSize(-12).tickFormat(""));

  [topAxis, leftAxis, topMinor, leftMinor].forEach(function(a) {
    a.attr("font-family", null).attr("font-size", 44);
    a.select(".domain").remove();
    a.selectAll(".tick line").attr("stroke-width", 3);
  });

  // orientation labels written on the sections
  if (i == 1) {
    g.append("text")
      .attr("x", x(63)).attr("y", y(8.5))
      .attr("font-size", 56)
      .text("{001}<100>");
  }
  if (i == 3) {
    var t = g.append("text")
      .attr("x", x(2.2)).attr("y", y(85.8))
      .attr("font-size", 57)
      .text("{110}<1");
    t.append("tspan").style("text-decoration", "overline").text("1");
    t.append("tspan").text("0>");
  }

  g.selectAll("path.marker")
    .data(allMarkers[i])
    .enter().append("path")
    .attr("class", "marker")
    .attr("transform", function(d) { return "translate(" + x(d[2]) + "," + y(d[3]) + ")"; })
    .attr("d", function(d) { return d3.symbol().type(shapes[d[0]]).size(29 * 29)(); })
    .attr("fill", function(d) { return markerColor[d[1]]; })
    .attr("stroke", "#000")
    .attr("stroke-width", 7)
    .attr("stroke-linejoin", "miter");

  g.append("text")
    .attr("x", f.l + f.tag).attr("y", f.t - 77)
    .attr("text-anchor", "middle")
    .attr("font-size", 64)
    .text(panelNames[i]);

  var phi1 = g.append("text")
    .attr("x", (f.l + f.r) / 2).attr("y", f.t - 110)
    .attr("text-anchor", "middle")
    .attr("font-size", 56)
    .attr("font-style", "italic")
    .text("φ");
  phi1.append("tspan").attr("dx", 6).attr("dy", 10).attr("font-size", 40).text("1");

  g.append("text")
    .attr("transform", "translate(" + (f.l - 94) + "," + ((f.t + f.b) / 2) + ") rotate(-90)")
    .attr("text-anchor", "middle")
    .attr("font-size", 52)
    .attr("font-style", "italic")
    .attr("font-weight", "bold")
    .text("Φ");
});

colorBars.forEach(function(c) {
  var scale = d3.scaleLinear().domain([-1, 10]).range([c.b, c.t]);
  var g = svg.append("g").attr("class", "colorbar");

  g.selectAll("rect.step")
    .data(levels.slice(0, -1))
    .enter().append("rect")
    .attr("class", "step")
    .attr("x", c.l)
    .attr("y", function(d) { return scale(d + 1); })
    .attr("width", c.r - c.l)
    .attr("height", function(d) { return scale(d) - scale(d + 1); })
    .attr("fill", function(d) { return bandColor(d); });

  g.append("rect")
    .attr("x", c.l).attr("y", c.t)
    .attr("width", c.r - c.l).attr("height", c.b - c.t)
    .attr("fill", "none").attr("stroke", "#000").attr("stroke-width", 3);

  var axis = g.append("g").attr("transform", "translate(" + c.r + ",0)")
    .call(d3.axisRight(scale).tickValues(levels).tickSize(-18).tickPadding(13)
      .tickFormat(function(d, i) { return levelLabels[i]; }));
  axis.attr("font-family", null).attr("font-size", 46);
  axis.select(".domain").remove();
  axis.selectAll(".tick line").attr("stroke-width", 3);
});
</script>
</body>
</html>
